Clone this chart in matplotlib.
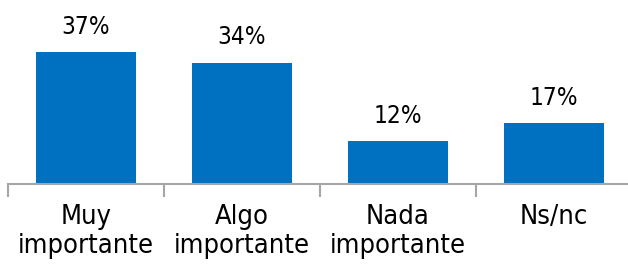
import matplotlib
matplotlib.use("Agg")
import matplotlib.pyplot as plt
import numpy as np

categories = ["Muy\nimportante", "Algo\nimportante", "Nada\nimportante", "Ns/nc"]
values = [37, 34, 12, 17]
value_labels = ["37%", "34%", "12%", "17%"]

W, H = 628, 265
fig = plt.figure(figsize=(W / 100, H / 100), dpi=100)

# axes spans category boundaries; last boundary sits just past the right edge
left, right = 8 / W, 632 / W
bottom = (H - 183.5) / H
ax = fig.add_axes([left, bottom, right - left, 1 - bottom])

x = np.arange(len(categories))
ax.bar(x, values, width=0.635, color="#0070C0")
ax.set_xlim(-0.5, len(categories) - 0.5)
ax.set_ylim(0, 51.6)

for xi, v, lab in zip(x, values, value_labels):
    ax.text(xi, v + 5.1, lab, ha="center", va="baseline", fontsize=17.5,
            family=["DejaVu Sans"], fontstretch="condensed")

for s in ["top", "right", "left"]:
    ax.spines[s].set_visible(False)
ax.spines["bottom"].set_color("#A6A6A6")
ax.spines["bottom"].set_linewidth(1.5)
ax.set_yticks([])

ax.set_xticks(x)
ax.set_xticklabels(categories, fontsize=19.5, linespacing=1.12,
                   family=["DejaVu Sans"], fontstretch="condensed")
ax.tick_params(axis="x", which="major", length=0, pad=15)
ax.set_xticks(np.arange(-0.5, len(categories), 1.0), minor=True)
ax.tick_params(axis="x", which="minor", length=9, width=1.5, color="#A6A6A6")

fig.savefig("out.png", dpi=100)
